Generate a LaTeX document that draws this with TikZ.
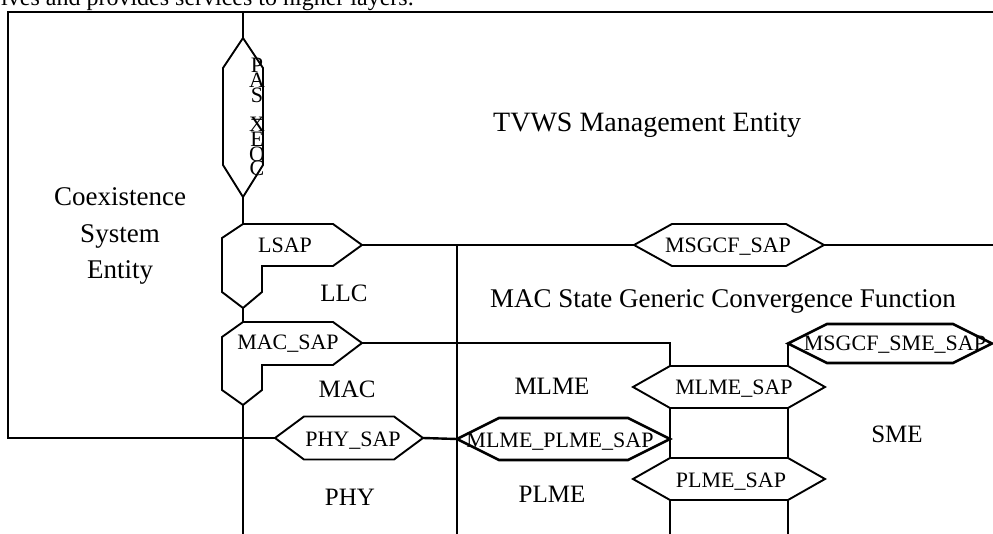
\documentclass[tikz,border=0pt]{standalone}
\usepackage{fontspec}
\setmainfont{Liberation Serif}
% hexagonal service access point: name, centre x, centre y, half flat width, tip length, half height
\newcommand{\saphex}[7][]{%
  \coordinate (#2-w)  at ({#3-#5-#6},#4);
  \coordinate (#2-e)  at ({#3+#5+#6},#4);
  \coordinate (#2-nw) at ({#3-#5},{#4-#7});
  \coordinate (#2-ne) at ({#3+#5},{#4-#7});
  \coordinate (#2-sw) at ({#3-#5},{#4+#7});
  \coordinate (#2-se) at ({#3+#5},{#4+#7});
  \draw[sapedge,#1] (#2-w) -- (#2-nw) -- (#2-ne) -- (#2-e) -- (#2-se) -- (#2-sw) -- cycle;
}
\begin{document}
\begin{tikzpicture}[x=1pt,y=-1pt,
  wire/.style={line width=2.4pt, line join=miter},
  sapedge/.style={line width=1.9pt, line join=miter},
  boldsap/.style={line width=2.6pt},
  saplabel/.style={font=\fontsize{22}{22}\selectfont, inner sep=0pt, anchor=base},
  layerlabel/.style={font=\fontsize{25}{25}\selectfont, inner sep=0pt, anchor=base},
  entitylabel/.style={font=\fontsize{28}{28}\selectfont, inner sep=0pt, anchor=base west},
  stackletter/.style={font=\fontsize{22}{22}\selectfont, inner sep=0pt, anchor=base}]
\useasboundingbox (0,0) rectangle (993,534);
\clip (0,0) rectangle (993,534);

% running text of the page above the figure
\node[font=\fontsize{24}{24}\selectfont, inner sep=0pt, anchor=base west] (pagetext) at (1,6)
  {ives and provides services to higher layers.};

% fixed junction points
\coordinate (tl) at (8,12);
\coordinate (tr) at (993,12);
\coordinate (bl) at (8,438);
\coordinate (topmid) at (243,12);
\coordinate (llcbot) at (243,534);
\coordinate (busjoin) at (457,245);
\coordinate (busbot) at (457,534);
\coordinate (msgcfend) at (993,245);
\coordinate (plmeleft) at (670,534);
\coordinate (plmeright) at (788,534);

% PAS / XEOC vertical access point
\coordinate (pas-n) at (243,38);
\coordinate (pas-s) at (243,197);
\coordinate (pas-ne) at (263,68);
\coordinate (pas-se) at (263,165);
\coordinate (pas-sw) at (223,165);
\coordinate (pas-nw) at (223,68);
\draw[sapedge] (pas-n) -- (pas-ne) -- (pas-se) -- (pas-s) -- (pas-sw) -- (pas-nw) -- cycle;
\foreach \ch [count=\i] in {P,A,S,\_,X,E,O,C}
  \node[stackletter] (pas-\i) at (257,{73+14.7*(\i-1)}) {\ch};

% LSAP corner access point
\coordinate (lsap-n) at (243,224);
\coordinate (lsap-e) at (362,245);
\coordinate (lsap-s) at (243,308);
\draw[sapedge] (lsap-n) -- (333,224) -- (lsap-e) -- (333,266) -- (262,266) -- (262,292)
  -- (lsap-s) -- (222,292) -- (222,238) -- cycle;
\node[saplabel] (lsap) at (285,253) {LSAP};

% MAC_SAP corner access point
\coordinate (macsap-n) at (243,322);
\coordinate (macsap-e) at (362,343);
\coordinate (macsap-s) at (243,405);
\draw[sapedge] (macsap-n) -- (333,322) -- (macsap-e) -- (333,365) -- (262,365) -- (262,390)
  -- (macsap-s) -- (222,390) -- (222,337) -- cycle;
\node[saplabel] (macsap) at (288,350) {MAC\_SAP};

% straight access points
\saphex{physap}{349}{438}{45}{29}{21.5}
\node[saplabel] (physaplabel) at (353,446) {PHY\_SAP};
\saphex{msgcf}{729}{245}{57}{38}{21}
\node[saplabel] (msgcflabel) at (728,253) {MSGCF\_SAP};
\saphex[boldsap]{mlplsap}{563.5}{439}{64.5}{42}{21}
\node[saplabel] (mlplsaplabel) at (560,447) {MLME\_PLME\_SAP};
\saphex{mlmesap}{729}{387}{59}{37}{21}
\node[saplabel] (mlmesaplabel) at (734,395) {MLME\_SAP};
\saphex{plmesap}{729}{479}{59}{37}{21}
\node[saplabel] (plmesaplabel) at (731,487) {PLME\_SAP};
\saphex[boldsap]{smesap}{890}{343.5}{63}{39}{19.5}
\node[saplabel] (smesaplabel) at (895,351) {MSGCF\_SME\_SAP};

% connectors
\draw[wire] (tr) -- (tl) -- (bl) -- (physap-w);
\draw[wire] (topmid) -- (pas-n);
\draw[wire] (pas-s) -- (lsap-n);
\draw[wire] (lsap-s) -- (macsap-n);
\draw[wire] (macsap-s) -- (llcbot);
\draw[wire] (lsap-e) -- (msgcf-w);
\draw[wire] (msgcf-e) -- (msgcfend);
\draw[wire] (busjoin) -- (busbot);
\draw[wire] (macsap-e) -| (mlmesap-nw);
\draw[wire] (mlmesap-ne) -- (smesap-w);
\draw[wire] (mlmesap-sw) -- (plmesap-nw);
\draw[wire] (mlmesap-se) -- (plmesap-ne);
\draw[wire] (plmesap-sw) -- (plmeleft);
\draw[wire] (plmesap-se) -- (plmeright);
\draw[wire] (physap-e) -- (mlplsap-w);

% entity and layer names
\node[font=\fontsize{27}{36.5}\selectfont, align=center, inner sep=0pt] (coex) at (120,236)
  {Coexistence\\System\\Entity};
\node[entitylabel] (tvws) at (493,132) {TVWS Management Entity};
\node[font=\fontsize{27}{27}\selectfont, inner sep=0pt, anchor=base] (msgcffun) at (723,308)
  {MAC State Generic Convergence Function};
\node[layerlabel] (llc) at (344,302) {LLC};
\node[layerlabel] (mac) at (347,397) {MAC};
\node[layerlabel] (phy) at (350,505) {PHY};
\node[layerlabel] (mlme) at (552,395) {MLME};
\node[layerlabel] (plme) at (552,502) {PLME};
\node[layerlabel] (sme) at (897,442) {SME};
\end{tikzpicture}
\end{document}
